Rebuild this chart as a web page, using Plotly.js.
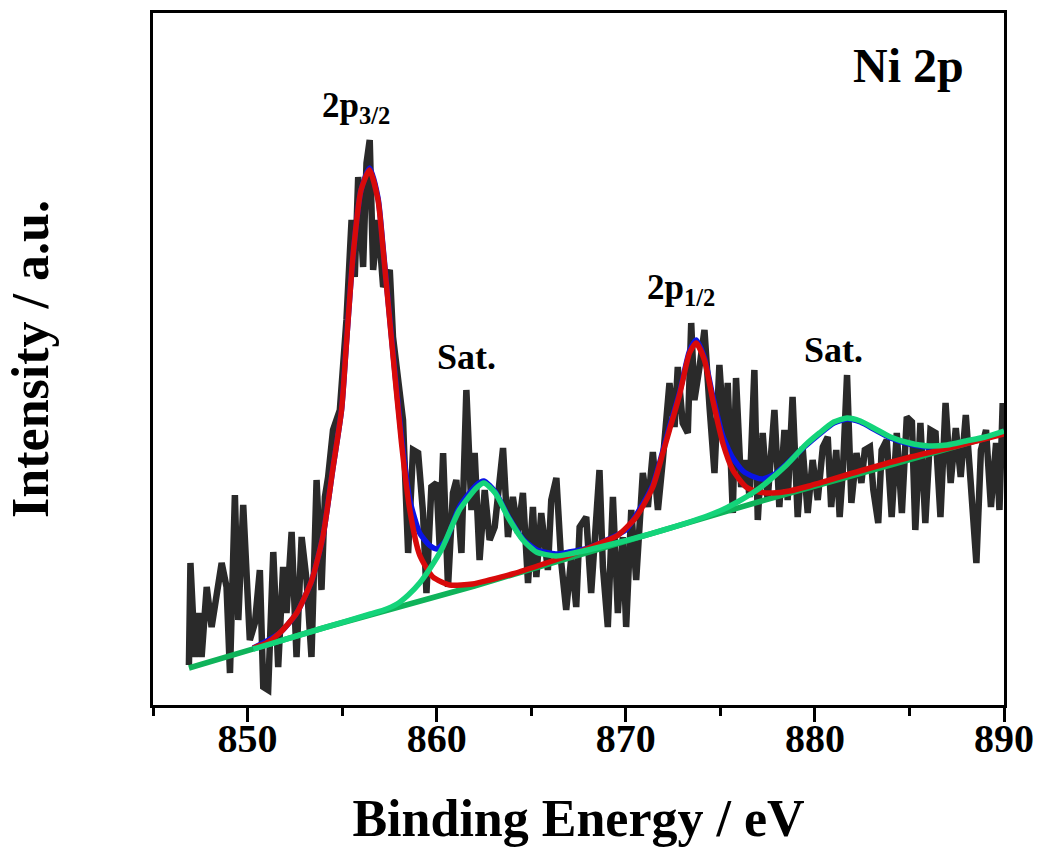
<!DOCTYPE html>
<html>
<head>
<meta charset="utf-8">
<script src="https://cdn.plot.ly/plotly-3.0.1.min.js"></script>
<style>html,body{margin:0;padding:0;background:#fff;}#chart{width:1037px;height:847px;}</style>
</head>
<body>
<div id="chart"></div>
<script>
// Raw spectrum (binding energy, eV / intensity, a.u.)
const rawE = [846.90,846.98,847.22,847.39,847.57,847.84,848.10,848.28,848.63,848.89,849.07,849.33,849.51,849.77,849.95,850.12,850.39,850.65,850.83,851.09,851.36,851.62,851.88,852.06,852.33,852.59,852.86,853.12,853.38,853.65,853.91,854.09,854.26,854.52,854.88,
855.23,855.50,855.67,855.85,856.11,856.29,856.46,856.64,856.90,857.17,857.52,857.69,857.96,858.22,858.49,858.75,859.02,859.28,859.46,859.72,859.99,860.16,860.34,860.60,860.86,861.04,861.31,861.57,861.84,862.01,
862.27,862.54,862.80,863.07,863.51,863.77,864.03,864.30,864.56,864.83,865.09,865.27,865.53,865.88,866.06,866.33,866.59,866.85,867.12,867.38,867.56,867.91,868.17,868.35,868.61,868.79,869.05,869.32,869.58,869.84,870.02,870.29,870.55,870.90,871.17,871.43,871.70,871.96,
872.31,872.58,872.75,873.01,873.28,873.46,873.63,873.90,874.16,874.43,874.69,874.95,875.22,875.39,875.66,875.83,876.10,876.36,876.54,876.80,876.98,877.24,877.50,877.86,878.12,878.39,878.56,878.82,879.09,879.35,879.62,879.88,
880.15,880.42,880.68,880.86,881.13,881.31,881.49,881.70,881.93,882.20,882.46,882.64,882.91,883.09,883.35,883.53,883.80,884.06,884.33,884.60,884.86,885.13,885.31,885.58,885.84,886.11,886.38,886.64,886.91,887.18,887.45,887.71,887.98,888.24,888.54,888.78,889.05,889.31,889.58,889.76,889.93];
const rawI = [40,142,48,92,48,118,78,98,142,118,32,210,85,200,108,65,82,135,18,15,153,38,138,92,173,48,168,125,48,225,115,208,228,275,295,
385,485,428,528,438,542,565,435,485,418,435,368,318,285,152,255,252,192,112,218,222,158,252,118,212,225,152,315,195,252,
145,215,165,178,257,168,208,172,212,122,198,128,192,135,205,227,142,95,148,98,178,188,112,168,235,138,78,208,92,168,78,195,125,232,198,253,195,245,
322,278,338,282,272,382,305,338,375,298,232,340,262,322,192,327,218,245,208,335,185,272,205,295,198,275,205,308,188,258,192,245,
205,258,268,198,255,188,238,330,202,252,222,255,258,215,182,255,265,188,272,192,288,283,175,282,182,275,272,188,302,222,277,228,290,222,142,255,275,198,262,195,302];

// Background (straight baseline)
const bgE = [846.9,854.0,862.0,868.5,877.0,884.0,890.0];
const bgI = [37,77,119,156,203,240,272];

// Ni 2p main components + background (red)
const mainE = [850.3,851.0,851.7,852.6,853.4,854.0,854.5,854.97,855.23,855.58,856.0,856.45,856.9,857.17,857.69,858.14,858.58,859.1,859.8,860.7,861.9,862.8,864.0,865.8,867.5,868.8,869.6,870.55,871.43,871.96,872.31,872.84,873.37,873.72,874.16,874.6,875.13,875.66,876.36,877.07,877.77,878.65,879.7,882.38,885.05,887.71,890.0];
const mainI = [57,62,72,92,125,170,235,295,362,450,515,535,505,455,350,262,195,150,128,120,121,125,131,142,153,163,170,188,218,252,275,310,352,362,345,305,262,235,218,213,212,214,219,234,248,260,271];

// Satellite components + background (green)
const satE = [850.3,854.0,856.5,857.2,857.9,858.5,859.1,859.63,860.3,861.2,862.1,862.5,863.1,863.8,864.56,865.27,866.3,867.0,868.0,869.5,870.7,872.0,873.2,874.3,875.2,876.0,876.7,877.42,878.5,879.5,880.24,881.0,881.7,882.4,883.2,884.0,885.0,886.0,887.0,888.0,889.0,890.0];
const satI = [56,77,91,95,101,110,122,136,157,195,217,222,212,187,165,153,149,151,155,162,168,175,182,189,196,204,212,222,240,260,272,283,287,284,276,268,262,259,260,264,268,274];

// Envelope (blue)
const envE = [850.3,851.7,852.6,853.4,854.0,854.5,854.97,855.23,855.58,856.0,856.45,856.9,857.17,857.69,858.14,858.58,859.1,859.6,860.0,860.5,861.2,862.1,862.5,863.1,863.8,864.56,865.3,866.3,867.0,868.0,869.0,870.0,870.55,871.43,871.96,872.31,872.84,873.37,873.72,874.16,874.6,875.13,875.66,876.2,876.8,877.24,877.8,878.5,879.5,880.24,881.0,881.7,882.4,883.2,884.0,885.0,886.0,887.0,888.0,889.0,890.0];
const envI = [57,72,92,125,170,235,295,362,450,515,537,507,457,352,268,205,172,160,156,165,198,220,224,213,188,166,155,151,153,157,165,175,190,220,254,278,312,354,365,347,309,269,247,234,228,226,230,241,259,271,282,286,283,275,267,261,258,259,263,267,273];

const xTicks = [850,860,870,880,890];
const xTickText = ['850','860','870','880','890'];

const serif = 'Liberation Serif, Times New Roman, serif';

const traces = [
  {x: rawE, y: rawI, type:'scatter', mode:'lines', line:{color:'#2a2a2a', width:6.5}, hoverinfo:'skip'},
  {x: bgE, y: bgI, type:'scatter', mode:'lines', line:{color:'#0fb35a', width:5.5}, hoverinfo:'skip'},
  {x: envE, y: envI, type:'scatter', mode:'lines', line:{color:'#0a14e6', width:5.5, shape:'spline', smoothing:0.6}, hoverinfo:'skip'},
  {x: mainE, y: mainI, type:'scatter', mode:'lines', line:{color:'#d80a0a', width:5.5, shape:'spline', smoothing:0.6}, hoverinfo:'skip'},
  {x: satE, y: satI, type:'scatter', mode:'lines', line:{color:'#14d47a', width:5.5, shape:'spline', smoothing:0.6}, hoverinfo:'skip'}
];

const layout = {
  width: 1037, height: 847,
  margin: {l:153, r:33, t:13, b:142},
  paper_bgcolor:'#fff', plot_bgcolor:'#fff',
  showlegend: false,
  xaxis: {
    range:[845,890], showline:true, mirror:true, linecolor:'#000', linewidth:3,
    showgrid:false, zeroline:false,
    tickmode:'array', tickvals:xTicks, ticktext:xTickText,
    ticks:'outside', ticklen:14, tickwidth:3, tickcolor:'#000',
    minor:{tickmode:'array', tickvals:[845,855,865,875,885], ticks:'outside', ticklen:8, tickwidth:3, tickcolor:'#000', showgrid:false},
    tickfont:{family:serif, size:40, color:'#000', weight:'bold'},
    ticklabelstandoff:-18,
    title:{text:'Binding Energy / eV', font:{family:serif, size:52, color:'#000', weight:'bold'}, standoff:40},
    automargin:false
  },
  yaxis: {
    range:[0,692], showline:true, mirror:true, linecolor:'#000', linewidth:3,
    showgrid:false, zeroline:false, ticks:'', showticklabels:false,
    title:{text:'Intensity / a.u.', font:{family:serif, size:52, color:'#000', weight:'bold'}, standoff:85},
    automargin:false
  },
  annotations: [
    {x:884.94, y:640, xref:'x', yref:'y', text:'Ni 2p', showarrow:false, font:{family:serif, size:48, color:'#000', weight:'bold'}},
    {x:855.75, y:598, xref:'x', yref:'y', text:'2p<sub>3/2</sub>', showarrow:false, font:{family:serif, size:35, color:'#000', weight:'bold'}},
    {x:861.6, y:348, xref:'x', yref:'y', text:'Sat.', showarrow:false, font:{family:serif, size:36, color:'#000', weight:'bold'}},
    {x:872.9, y:416, xref:'x', yref:'y', text:'2p<sub>1/2</sub>', showarrow:false, font:{family:serif, size:35, color:'#000', weight:'bold'}},
    {x:881.0, y:355, xref:'x', yref:'y', text:'Sat.', showarrow:false, font:{family:serif, size:36, color:'#000', weight:'bold'}}
  ]
};

Plotly.newPlot('chart', traces, layout, {staticPlot:true, displayModeBar:false});
</script>
</body>
</html>
